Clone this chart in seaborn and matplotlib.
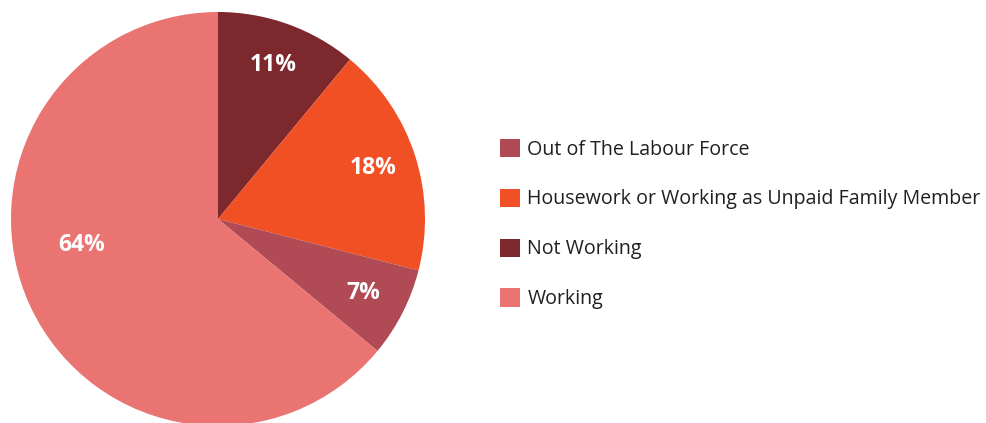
import matplotlib
matplotlib.use("Agg")
import matplotlib.pyplot as plt
from matplotlib.patches import Patch
import seaborn as sns
import numpy as np

# Legend order
categories = ["Out of The Labour Force",
              "Housework or Working as Unpaid Family Member",
              "Not Working",
              "Working"]
shares = [7, 18, 11, 64]
colors = ["#B04A55", "#F05024", "#7D282C", "#E97471"]

# Slices run clockwise from 12 o'clock in this order
slice_order = [2, 1, 0, 3]

sns.set_theme(style="white")
plt.rcParams["font.family"] = ["Open Sans", "DejaVu Sans"]

fig = plt.figure(figsize=(9.87, 4.23), dpi=100)
W, H = 987, 423
cx, cy, r = 218, 219, 207
ax = fig.add_axes([(cx - r) / W, (H - cy - r) / H, 2 * r / W, 2 * r / H])

vals = [shares[i] for i in slice_order]
cols = [colors[i] for i in slice_order]
wedges, texts, autotexts = ax.pie(
    vals, colors=cols, startangle=90, counterclock=False,
    autopct=lambda p: f"{p:.0f}%", pctdistance=0.79, radius=1,
    wedgeprops=dict(linewidth=0),
    textprops=dict(color="white", fontsize=16.5, fontweight="bold"))

# The large slice's label sits closer to the left edge
ang = np.deg2rad(190.8)
autotexts[3].set_position((0.67 * np.cos(ang), 0.67 * np.sin(ang)))

ax.set_xlim(-1, 1)
ax.set_ylim(-1, 1)
ax.set_aspect("auto")
ax.axis("off")

handles = [Patch(facecolor=c, edgecolor="none") for c in colors]
fig.legend(handles, categories, loc="upper left",
           bbox_to_anchor=(492 / W, 1 - 131 / H), borderaxespad=0,
           frameon=False, fontsize=14.15, handlelength=1.04, handleheight=1.04,
           handletextpad=0.36, labelspacing=1.48, labelcolor="#231F20")

fig.savefig("out.png", dpi=100)
